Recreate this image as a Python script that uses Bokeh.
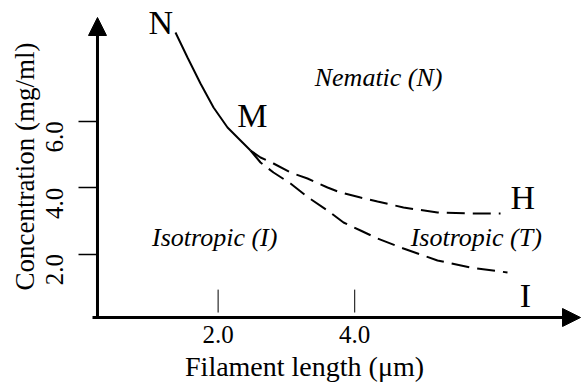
import math
from bokeh.plotting import figure
from bokeh.models import (Range1d, FixedTicker, PrintfTickFormatter, Arrow,
                          NormalHead)
from bokeh.core.properties import value
from bokeh.embed import file_html
from bokeh.resources import INLINE

# ---- data ----
x_ticks = [2.0, 4.0]
y_ticks = [2.0, 4.0, 6.0]

solid_x = [1.376, 1.552, 1.742, 1.933, 2.138, 2.328, 2.475]
solid_y = [8.675, 7.922, 7.139, 6.416, 5.813, 5.422, 5.120]

upper_x = [2.475, 2.621, 2.811, 3.060, 3.309, 3.602, 3.792, 4.085, 4.334,
           4.714, 5.212, 5.695, 6.135]
upper_y = [5.120, 4.910, 4.729, 4.458, 4.277, 4.006, 3.855, 3.705, 3.584,
           3.404, 3.253, 3.223, 3.223]

lower_x = [2.475, 2.621, 2.811, 3.060, 3.309, 3.602, 3.836, 4.085, 4.334,
           4.714, 5.212, 5.695, 6.237]
lower_y = [5.120, 4.759, 4.458, 4.127, 3.720, 3.313, 2.952, 2.711, 2.470,
           2.169, 1.807, 1.596, 1.446]

point_names = ["N", "M", "H", "I"]
point_x = [1.16, 2.50, 6.46, 6.50]
point_y = [8.98, 6.17, 3.70, 0.75]

region_names = ["Nematic (N)", "Isotropic (I)", "Isotropic (T)"]
region_x = [4.35, 1.95, 5.78]
region_y = [7.32, 2.50, 2.50]

x_title = "Filament length (μm)"
y_title = "Concentration (mg/ml)"

FONT = "Liberation Serif"

p = figure(width=582, height=384, output_backend="svg", toolbar_location=None,
           x_range=Range1d(-1.186, 7.335), y_range=Range1d(-1.928, 9.639),
           min_border=0)
p.outline_line_color = None
p.grid.visible = False
p.background_fill_color = "white"
p.border_fill_color = "white"

AX_X = 0.234   # where the vertical axis sits (data x)
AX_Y = 0.09    # where the horizontal axis sits (data y)

# x axis
xa = p.xaxis[0]
xa.fixed_location = AX_Y
xa.ticker = FixedTicker(ticks=x_ticks)
xa.formatter = PrintfTickFormatter(format="%.1f")
xa.axis_line_color = None
xa.major_tick_line_color = None
xa.minor_tick_line_color = None
xa.major_label_standoff = 2
xa.major_label_text_font = FONT
xa.major_label_text_font_size = "25px"
xa.major_label_text_color = "black"

# y axis
ya = p.yaxis[0]
ya.fixed_location = AX_X
ya.ticker = FixedTicker(ticks=y_ticks)
ya.formatter = PrintfTickFormatter(format="%.1f")
ya.axis_line_color = None
ya.major_tick_in = 0
ya.major_tick_out = 19
ya.major_tick_line_width = 1.3
ya.major_tick_line_color = "black"
ya.minor_tick_line_color = None
ya.major_label_orientation = math.pi / 2
ya.major_label_standoff = 24
ya.major_label_text_font = FONT
ya.major_label_text_font_size = "25px"
ya.major_label_text_color = "black"

# axis arrows
p.add_layout(Arrow(end=NormalHead(size=18, fill_color="black", line_color="black"),
                   x_start=AX_X, y_start=AX_Y, x_end=AX_X, y_end=9.127,
                   line_width=3, line_color="black"))
p.add_layout(Arrow(end=NormalHead(size=18, fill_color="black", line_color="black"),
                   x_start=0.161, y_start=AX_Y, x_end=7.306, y_end=AX_Y,
                   line_width=3, line_color="black"))

# inner x tick marks
p.segment(x0=x_ticks, y0=[0.24] * len(x_ticks), x1=x_ticks, y1=[0.93] * len(x_ticks),
          line_color="black", line_width=1)

# axis titles
p.text(x=[3.265], y=[-1.385], text=[x_title], text_font=value(FONT),
       text_font_size="28px", text_align="center", text_baseline="middle",
       text_color="black")
p.text(x=[-0.820], y=[4.639], text=[y_title], text_font=value(FONT),
       text_font_size="27px", text_align="center", text_baseline="middle",
       angle=math.pi / 2, text_color="black")

# curves
p.line(solid_x, solid_y, line_color="black", line_width=2)
p.line(upper_x, upper_y, line_color="black", line_width=2, line_dash="18 8")
p.line(lower_x, lower_y, line_color="black", line_width=2, line_dash="18 8")

# labels
p.text(x=point_x, y=point_y, text=point_names, text_font=value(FONT),
       text_font_size="34px", text_align="center", text_baseline="middle",
       text_color="black")
p.text(x=region_x, y=region_y, text=region_names, text_font=value(FONT),
       text_font_size="26px", text_font_style="italic", text_align="center",
       text_baseline="middle", text_color="black")

open("out.html", "w").write(file_html(p, INLINE))
